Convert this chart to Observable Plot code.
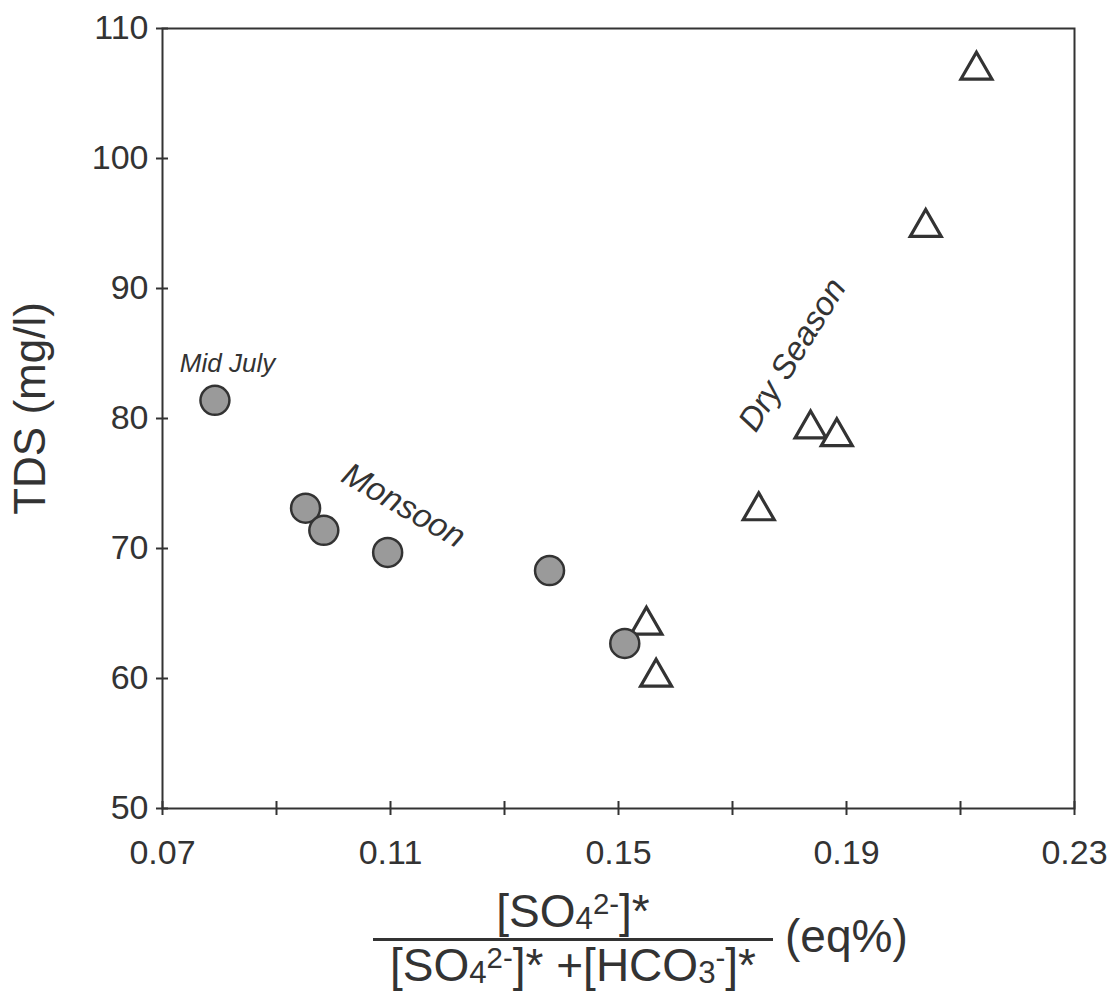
<!DOCTYPE html>
<html>
<head>
<meta charset="utf-8">
<script src="https://cdn.jsdelivr.net/npm/d3@7"></script>
<script src="https://cdn.jsdelivr.net/npm/@observablehq/plot@0.6"></script>
<style>
  html, body { margin: 0; padding: 0; background: white; }
  #wrap { width: 1108px; height: 996px; position: relative; overflow: hidden; font-family: "Liberation Sans", Arial, Helvetica, sans-serif; color: #333; }
  #chart svg { display: block; }
  #xlabel { position: relative; width: 1108px; height: 116px; font-size: 46px; line-height: 1; }
  #xlabel .num, #xlabel .den { position: absolute; left: 373px; width: 400px; text-align: center; white-space: nowrap; }
  #xlabel .num { top: 8px; }
  #xlabel .den { top: 62px; }
  #xlabel .bar { position: absolute; left: 373px; width: 400px; top: 58px; height: 3px; background: #333; }
  #xlabel .unit { position: absolute; left: 785px; top: 33px; white-space: nowrap; }
  .sb { font-size: 0.68em; position: relative; top: 0.06em; }
  .sp { font-size: 0.64em; position: relative; top: -0.45em; }
</style>
</head>
<body>
<div id="wrap">
  <div id="chart"></div>
  <div id="xlabel">
    <div class="num">[SO<span class="sb">4</span><span class="sp">2-</span>]*</div>
    <div class="bar"></div>
    <div class="den">[SO<span class="sb">4</span><span class="sp">2-</span>]* +[HCO<span class="sb">3</span><span class="sp">-</span>]*</div>
    <div class="unit">(eq%)</div>
  </div>
</div>
<script>
// Monsoon samples (filled circles)
const monsoonX = [0.0792, 0.0951, 0.0983, 0.1095, 0.1379, 0.1511];
const monsoonY = [81.4, 73.1, 71.4, 69.7, 68.3, 62.7];
// Dry-season samples (open triangles)
const dryX = [0.1549, 0.1566, 0.1746, 0.1837, 0.1883, 0.2039, 0.2128];
const dryY = [64.1, 60.1, 72.9, 79.2, 78.6, 94.7, 106.8];
// Axis ticks
const xMinorTicks = [0.07, 0.09, 0.11, 0.13, 0.15, 0.17, 0.19, 0.21, 0.23];
const xLabelTicks = [0.07, 0.11, 0.15, 0.19, 0.23];
const yTicks = [50, 60, 70, 80, 90, 100, 110];
// Annotations (data coordinates)
const annoText = ["Mid July", "Monsoon", "Dry Season"];
const annoX = [0.0814, 0.1123, 0.1805];
const annoY = [84.2, 73.3, 84.9];
const yTitle = "TDS (mg/l)";

const monsoon = monsoonX.map((x, i) => ({x, y: monsoonY[i]}));
const dry = dryX.map((x, i) => ({x, y: dryY[i]}));
const anno = annoText.map((t, i) => ({t, x: annoX[i], y: annoY[i]}));

const W = 1108, H = 880, mL = 162, mR = 34, mT = 28, mB = 72;
const fw = W - mL - mR, fh = H - mT - mB;
const ink = "#333";

const plot = Plot.plot({
  width: W, height: H,
  marginLeft: mL, marginRight: mR, marginTop: mT, marginBottom: mB,
  style: {fontFamily: '"Liberation Sans", Arial, Helvetica, sans-serif', background: "white", color: ink, fontSize: "34px"},
  x: {domain: [0.07, 0.23]},
  y: {domain: [50, 110]},
  marks: [
    Plot.frame({stroke: ink, strokeWidth: 2}),
    Plot.tickX(xMinorTicks, {x: d => d, stroke: ink, strokeWidth: 2, insetTop: fh - 7, insetBottom: -7}),
    Plot.tickY(yTicks, {y: d => d, stroke: ink, strokeWidth: 2, insetLeft: -6, insetRight: fw - 6}),
    Plot.axisX({ticks: xLabelTicks, tickSize: 0, tickPadding: 31, tickFormat: d3.format(".2f"), fontSize: 34, label: null}),
    Plot.axisY({ticks: yTicks, tickSize: 0, tickPadding: 14, fontSize: 34, label: null}),
    Plot.text([yTitle], {text: d => d, frameAnchor: "left", textAnchor: "middle", rotate: -90, dx: -132, dy: -10, fontSize: 44, fill: ink}),
    Plot.dot(dry, {x: "x", y: "y", symbol: "triangle", r: 11.5, fill: "white", stroke: "#333", strokeWidth: 3.2}),
    Plot.dot(monsoon, {x: "x", y: "y", r: 14.5, fill: "#9a9a9a", stroke: "#333", strokeWidth: 2.5}),
    Plot.text(anno.slice(0, 1), {x: "x", y: "y", text: "t", fontSize: 26, fontStyle: "italic", fill: ink}),
    Plot.text(anno.slice(1, 2), {x: "x", y: "y", text: "t", fontSize: 33, fontStyle: "italic", rotate: 30, fill: ink}),
    Plot.text(anno.slice(2, 3), {x: "x", y: "y", text: "t", fontSize: 33, fontStyle: "italic", rotate: -58, fill: ink})
  ]
});
document.getElementById("chart").appendChild(plot);
</script>
</body>
</html>
